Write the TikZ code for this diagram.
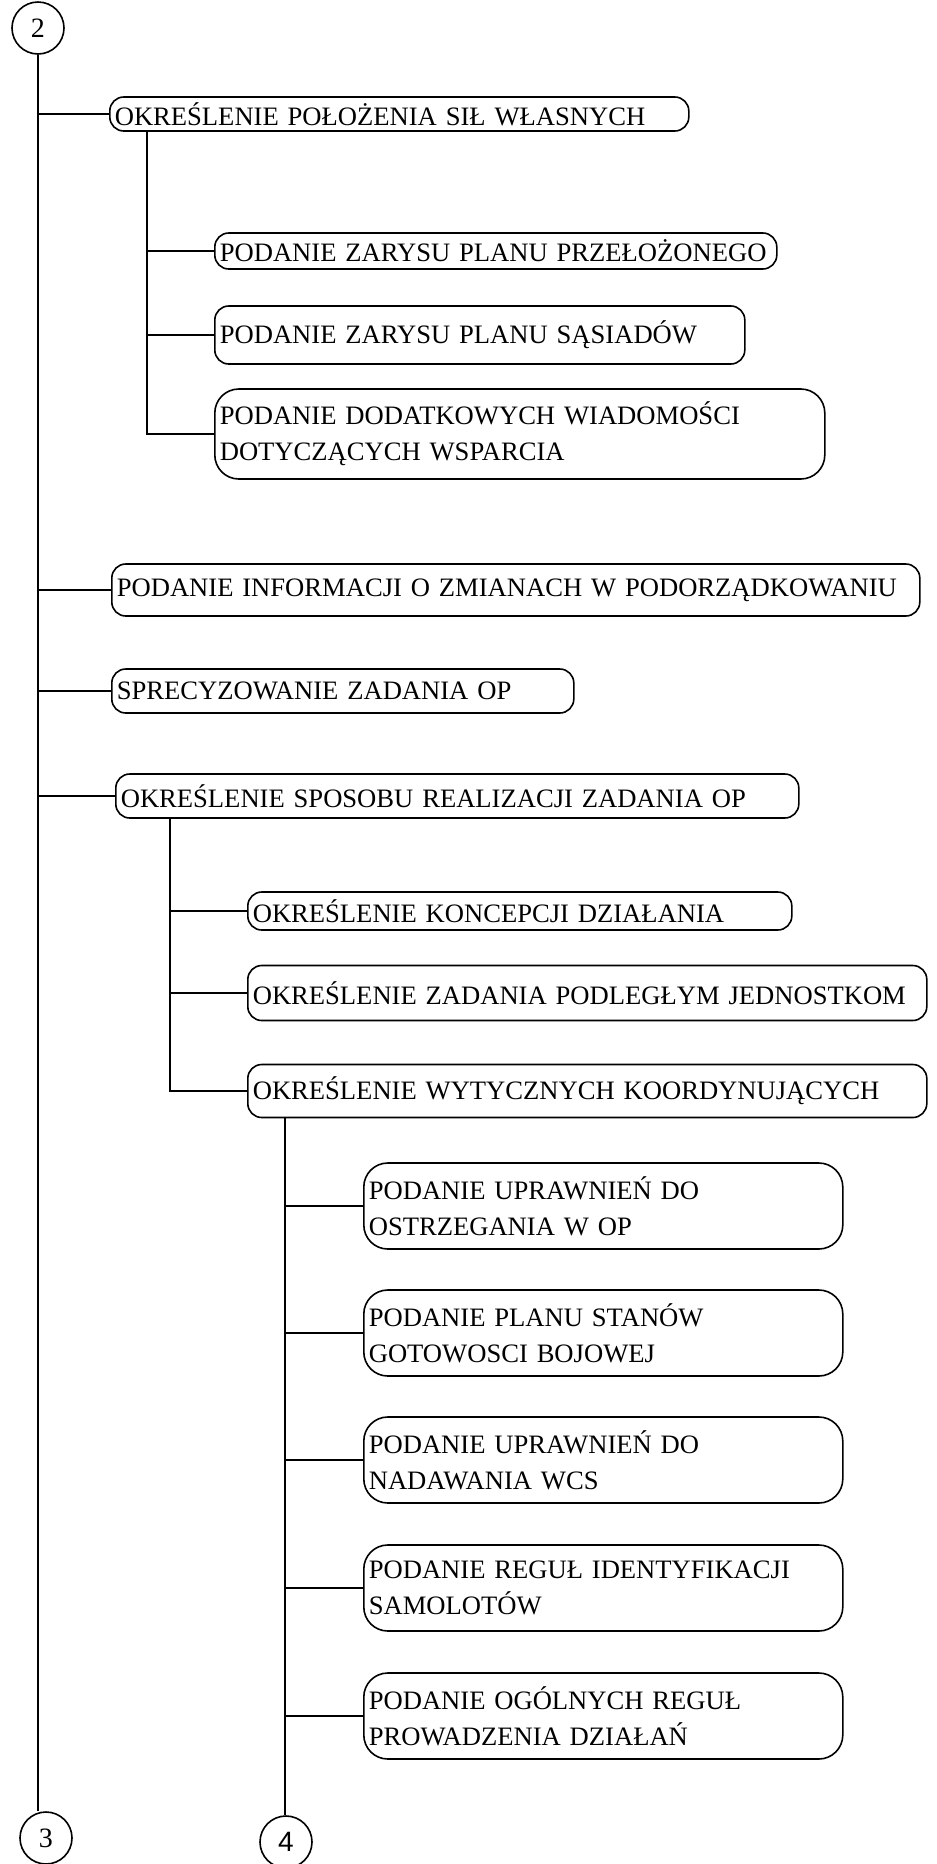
\documentclass[tikz,border=0pt]{standalone}
\usepackage{fontspec}
\setmainfont{Liberation Serif}
\newfontfamily\numsans{Liberation Sans}

\tikzset{
  box/.style={draw, line width=0.8pt, rounded corners=7pt, anchor=west, align=left,
    inner xsep=2.5pt, inner ysep=0pt, font=\fontsize{13.3}{18}\selectfont},
  bigbox/.style={box, rounded corners=12pt},
  num/.style={draw, circle, line width=0.8pt, minimum size=26pt, inner sep=0pt,
    font=\fontsize{14}{14}\selectfont},
  link/.style={line width=0.8pt}
}

\begin{document}
\begin{tikzpicture}[x=0.5pt,y=0.5pt]
\useasboundingbox (0,0) rectangle (937,-1864);

\node[num] (c2) at (38,-28) {2};
\node[num] (c3) at (46,-1838) {3};
\node[num] (c4) at (286,-1842) {\numsans 4};

\node[box, text width=284.5pt, minimum height=17pt] (a) at (109,-114) {OKREŚLENIE POŁOŻENIA SIŁ WŁASNYCH};
\node[box, text width=276pt, minimum height=18pt] (b) at (214,-251) {\mbox{PODANIE ZARYSU PLANU PRZEŁOŻONEGO}};
\node[box, text width=260pt, minimum height=29pt] (c) at (214,-335) {PODANIE ZARYSU PLANU SĄSIADÓW};
\node[bigbox, text width=300pt, minimum height=45pt] (d) at (214,-434) {PODANIE DODATKOWYCH WIADOMOŚCI\\DOTYCZĄCYCH WSPARCIA};
\node[box, text width=399pt, minimum height=26pt] (e) at (111,-590) {PODANIE INFORMACJI O ZMIANACH W PODORZĄDKOWANIU};
\node[box, text width=226pt, minimum height=22pt] (f) at (111,-691) {SPRECYZOWANIE ZADANIA OP};
\node[box, text width=336.5pt, minimum height=22pt] (g) at (115,-796) {OKREŚLENIE SPOSOBU REALIZACJI ZADANIA OP};
\node[box, text width=267pt, minimum height=19pt] (h) at (247,-911) {OKREŚLENIE KONCEPCJI DZIAŁANIA};
\node[box, text width=334.5pt, minimum height=27.5pt] (i) at (247,-993) {OKREŚLENIE ZADANIA PODLEGŁYM JEDNOSTKOM};
\node[box, text width=334.5pt, minimum height=26.5pt] (j) at (247,-1091) {OKREŚLENIE WYTYCZNYCH KOORDYNUJĄCYCH};
\node[bigbox, text width=234.5pt, minimum height=43pt] (k) at (363,-1206) {PODANIE UPRAWNIEŃ DO\\OSTRZEGANIA W OP};
\node[bigbox, text width=234.5pt, minimum height=43pt] (l) at (363,-1333) {PODANIE PLANU STANÓW\\GOTOWOSCI BOJOWEJ};
\node[bigbox, text width=234.5pt, minimum height=43pt] (m) at (363,-1460) {PODANIE UPRAWNIEŃ DO\\NADAWANIA WCS};
\node[bigbox, text width=234.5pt, minimum height=43pt] (n) at (363,-1588) {PODANIE REGUŁ IDENTYFIKACJI\\SAMOLOTÓW};
\node[bigbox, text width=234.5pt, minimum height=43pt] (o) at (363,-1716) {PODANIE OGÓLNYCH REGUŁ\\PROWADZENIA DZIAŁAŃ};

\draw[link] (c2.south) -- (c2.south |- c3.north);
\draw[link] (c2.south |- a.west) -- (a.west);
\draw[link] (c2.south |- e.west) -- (e.west);
\draw[link] (c2.south |- f.west) -- (f.west);
\draw[link] (c2.south |- g.west) -- (g.west);

\draw[link] ([xshift=19pt]a.south west) |- (d.west);
\draw[link] ([xshift=19pt]a.south west |- b.west) -- (b.west);
\draw[link] ([xshift=19pt]a.south west |- c.west) -- (c.west);

\draw[link] ([xshift=27.5pt]g.south west) |- (j.west);
\draw[link] ([xshift=27.5pt]g.south west |- h.west) -- (h.west);
\draw[link] ([xshift=27.5pt]g.south west |- i.west) -- (i.west);

\draw[link] ([xshift=19pt]j.south west) -- ([xshift=19pt]j.south west |- c4.north);
\draw[link] ([xshift=19pt]j.south west |- k.west) -- (k.west);
\draw[link] ([xshift=19pt]j.south west |- l.west) -- (l.west);
\draw[link] ([xshift=19pt]j.south west |- m.west) -- (m.west);
\draw[link] ([xshift=19pt]j.south west |- n.west) -- (n.west);
\draw[link] ([xshift=19pt]j.south west |- o.west) -- (o.west);
\end{tikzpicture}
\end{document}
